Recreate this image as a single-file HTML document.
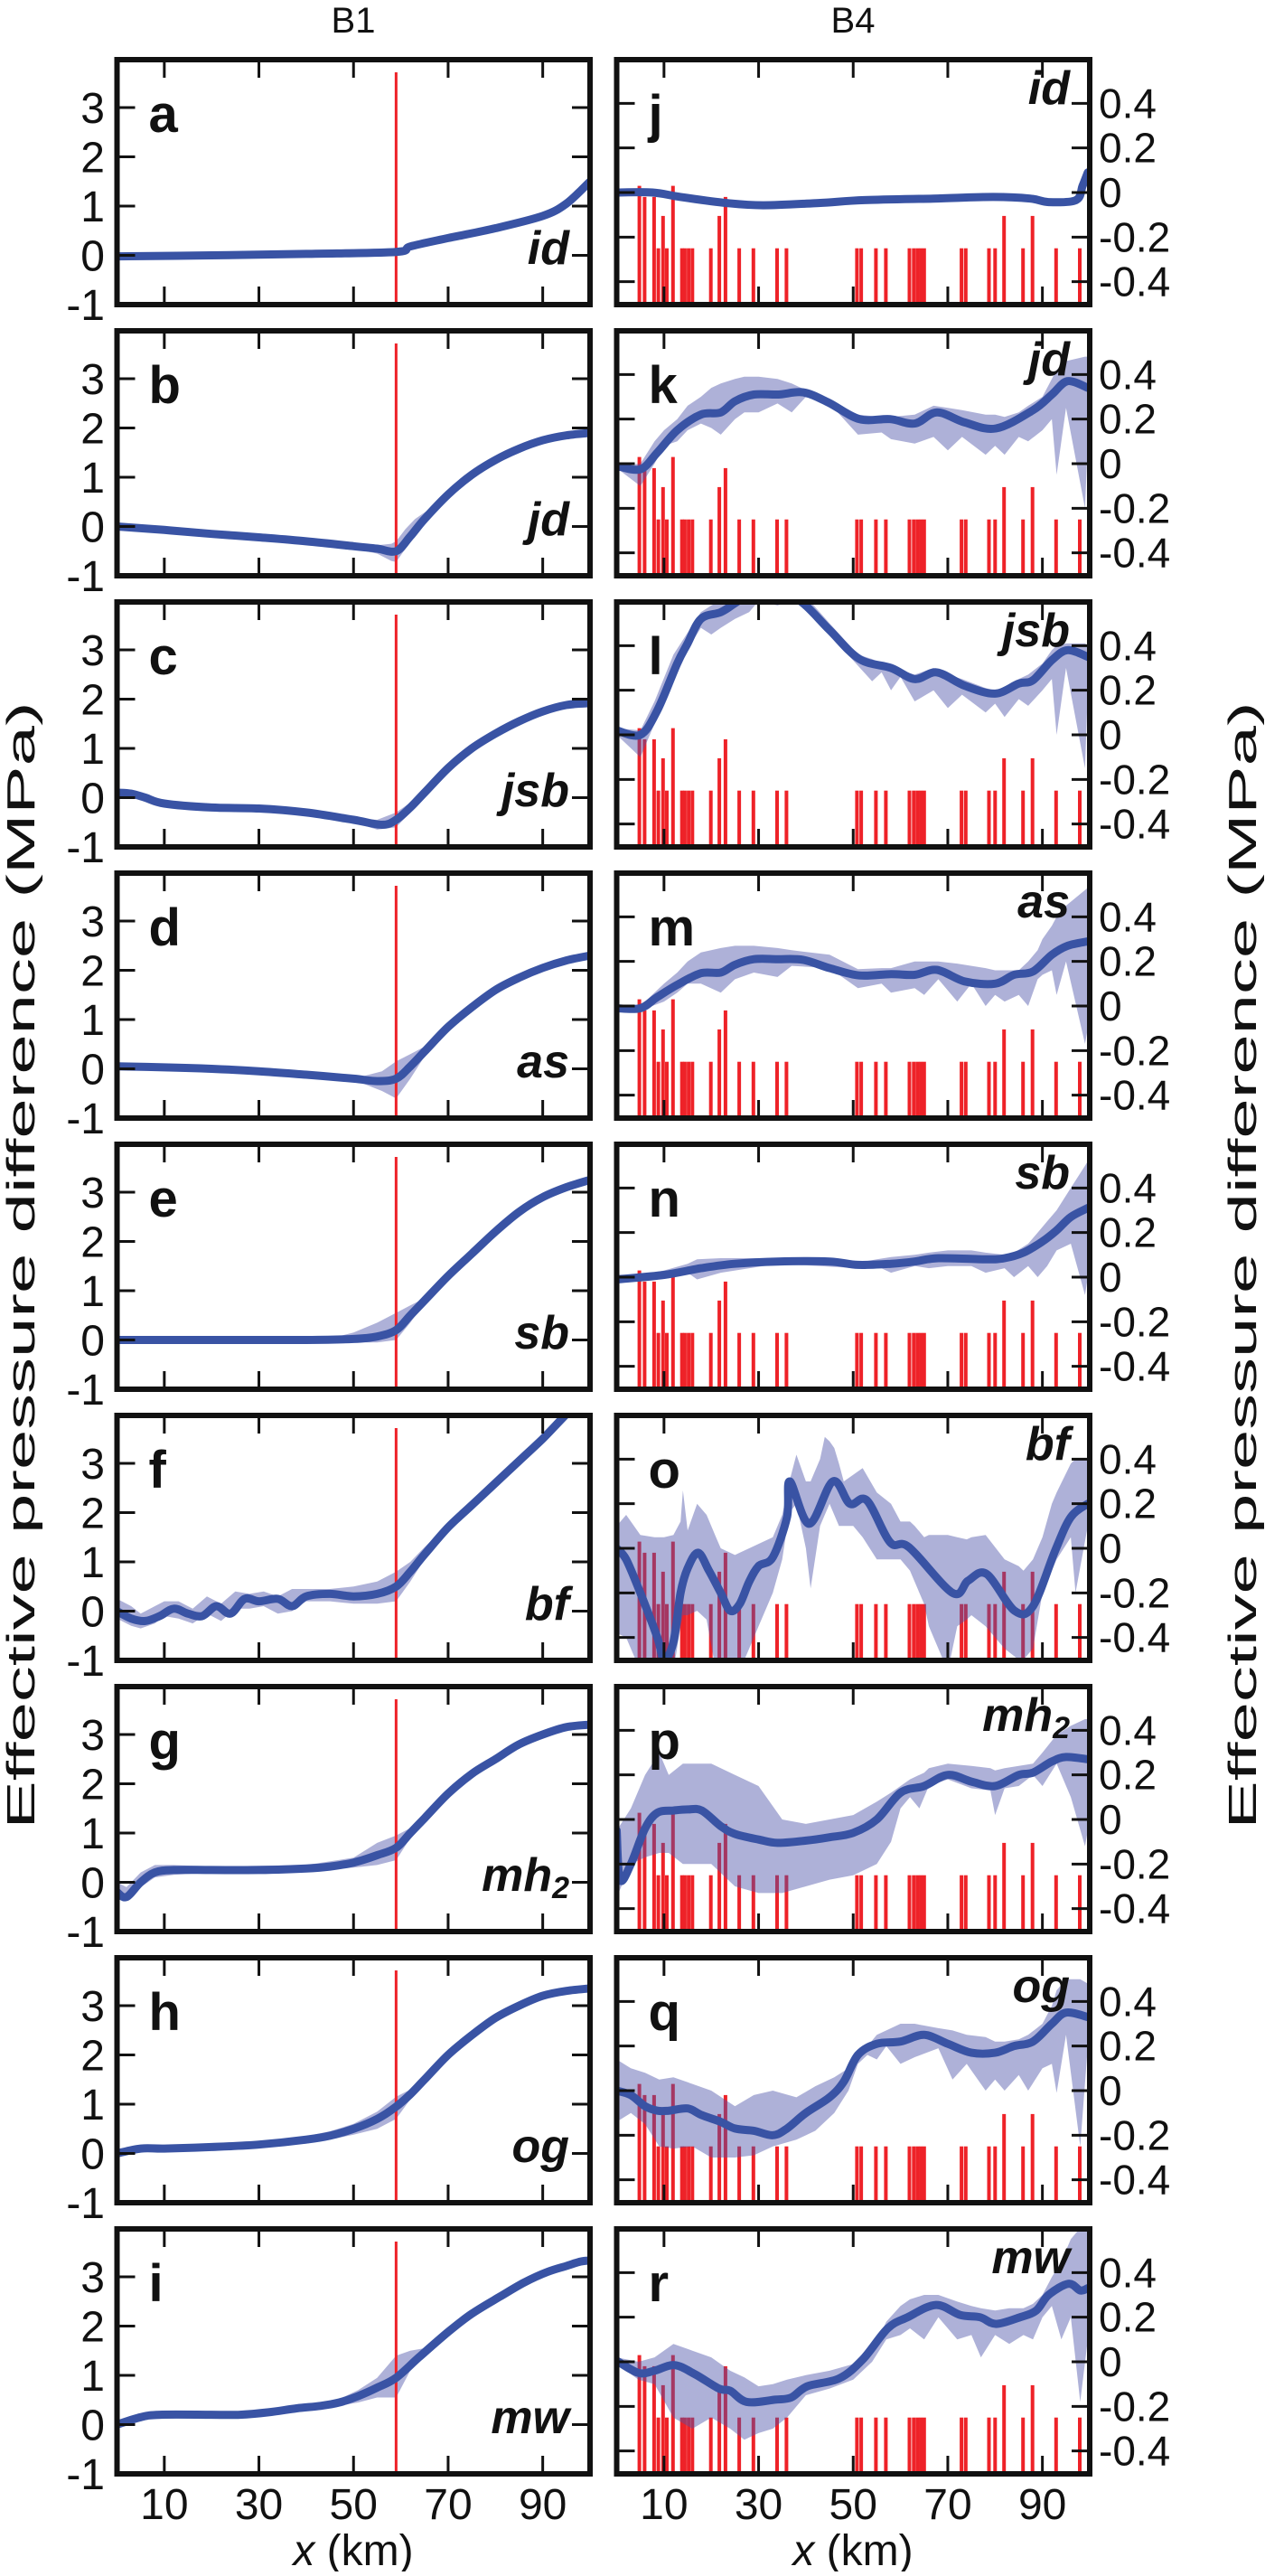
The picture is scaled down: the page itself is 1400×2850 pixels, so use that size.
<!DOCTYPE html>
<html><head><meta charset="utf-8"><style>
html,body{margin:0;padding:0;background:#fff;}
svg text{font-family:"Liberation Sans",sans-serif;fill:#111;}
</style></head><body>
<svg id="fig" xmlns="http://www.w3.org/2000/svg" width="1400" height="2845" viewBox="0 0 1400 2845">
<text x="391" y="36" font-size="40" text-anchor="middle">B1</text>
<text x="944" y="36" font-size="40" text-anchor="middle">B4</text>
<text transform="translate(38,1400) rotate(-90)" font-size="44" text-anchor="middle" textLength="1247" lengthAdjust="spacingAndGlyphs">Effective pressure difference (MPa)</text>
<text transform="translate(1390,1400) rotate(-90)" font-size="44" text-anchor="middle" textLength="1247" lengthAdjust="spacingAndGlyphs">Effective pressure difference (MPa)</text>
<text x="391" y="2838" font-size="48" text-anchor="middle"><tspan font-style="italic">x</tspan> (km)</text>
<text x="944" y="2838" font-size="48" text-anchor="middle"><tspan font-style="italic">x</tspan> (km)</text>
</svg>
<script>
// ---- shared data ----
const xTicks=[10,30,50,70,90];
const leftYTicks=[-1,0,1,2,3];
const rightYTicks=[-0.4,-0.2,0,0.2,0.4];
const rightYTickLabels=["-0.4","-0.2","0","0.2","0.4"];
const barKm=[4.8,5.9,7.9,8.8,9.8,10.6,11.9,13.8,14.4,15.2,16.0,19.9,21.7,23.0,25.9,28.9,33.9,35.9,50.8,51.7,54.8,56.9,61.9,62.8,63.6,64.3,65.0,72.9,73.8,78.7,80.0,81.9,85.9,87.9,92.9,97.9];
const barTop=[0.03,-0.02,-0.02,-0.25,-0.105,-0.25,0.03,-0.25,-0.25,-0.25,-0.25,-0.25,-0.105,-0.02,-0.25,-0.25,-0.25,-0.25,-0.25,-0.25,-0.25,-0.25,-0.25,-0.25,-0.25,-0.25,-0.25,-0.25,-0.25,-0.25,-0.25,-0.105,-0.25,-0.105,-0.25,-0.25];
const redLineKm=59;
const leftLetters=["a","b","c","d","e","f","g","h","i"];
const rightLetters=["j","k","l","m","n","o","p","q","r"];
const species=["id","jd","jsb","as","sb","bf","mh","og","mw"];

// ---- B1 (left) series ----
const aX=[0,20,40,59,62,70,80,90,95,100];
const aMean=[-0.02,0.0,0.03,0.07,0.18,0.35,0.55,0.8,1.05,1.5];
const aBX=[], aLo=[], aHi=[];
const bX=[0,10,20,30,40,50,55,59,62,65,70,75,80,85,90,95,100];
const bMean=[0.0,-0.07,-0.15,-0.22,-0.3,-0.4,-0.45,-0.5,-0.2,0.15,0.65,1.05,1.35,1.58,1.75,1.85,1.9];
const bBX=[45,50,55,58,59,61,63,66];
const bLo=[-0.38,-0.45,-0.55,-0.7,-0.72,-0.45,-0.15,0.25];
const bHi=[-0.32,-0.36,-0.38,-0.35,-0.3,-0.05,0.15,0.35];
const cX=[0,3,6,10,20,30,40,50,56,59,62,65,70,75,80,85,90,95,100];
const cMean=[0.1,0.08,0.0,-0.12,-0.2,-0.22,-0.3,-0.45,-0.55,-0.45,-0.2,0.1,0.6,1.0,1.3,1.55,1.75,1.88,1.92];
const cBX=[50,55,59,62,65];
const cLo=[-0.5,-0.65,-0.6,-0.3,0.05];
const cHi=[-0.42,-0.45,-0.3,-0.1,0.15];
const dX=[0,10,20,30,40,50,55,59,62,65,70,75,80,85,90,95,100];
const dMean=[0.05,0.03,0.0,-0.05,-0.12,-0.2,-0.25,-0.2,0.05,0.35,0.85,1.25,1.6,1.85,2.05,2.2,2.3];
const dBX=[48,52,56,59,62,65];
const dLo=[-0.22,-0.3,-0.45,-0.6,-0.2,0.25];
const dHi=[-0.18,-0.15,-0.05,0.15,0.3,0.45];
const eX=[0,20,40,50,55,59,62,65,70,75,80,85,90,95,100];
const eMean=[0.0,0.0,0.0,0.02,0.07,0.2,0.5,0.8,1.3,1.75,2.2,2.6,2.9,3.1,3.25];
const eBX=[45,50,55,59,62,65];
const eLo=[-0.02,-0.05,-0.05,0.0,0.35,0.75];
const eHi=[0.03,0.15,0.35,0.55,0.7,0.85];
const fX=[0,3,6,9,12,15,18,21,24,27,30,34,37,40,45,50,55,59,62,65,70,75,80,85,90,94,97];
const fMean=[0.0,-0.15,-0.2,-0.1,0.05,-0.05,-0.1,0.1,-0.05,0.25,0.2,0.25,0.1,0.3,0.35,0.3,0.35,0.5,0.8,1.15,1.7,2.15,2.6,3.05,3.5,3.9,4.2];
const fBX=[0,3,5,8,10,13,16,19,22,25,28,31,34,37,40,45,50,55,59,62,65,70];
const fLo=[-0.15,-0.3,-0.35,-0.25,-0.1,-0.15,-0.25,-0.05,-0.2,0.05,0.05,0.1,-0.05,0.0,0.2,0.2,0.15,0.15,0.2,0.6,1.05,1.65];
const fHi=[0.25,0.1,-0.05,0.1,0.2,0.2,0.05,0.3,0.15,0.4,0.35,0.4,0.3,0.45,0.45,0.45,0.5,0.6,0.8,1.0,1.3,1.75];
const gX=[0,2,5,8,12,20,30,40,45,50,55,59,62,65,70,75,80,85,90,95,100];
const gMean=[-0.2,-0.3,0.0,0.2,0.25,0.25,0.25,0.28,0.32,0.4,0.55,0.7,1.0,1.3,1.8,2.2,2.5,2.8,3.0,3.15,3.2];
const gBX=[0,2,5,8,12,20,40,50,55,59,62,65];
const gLo=[-0.35,-0.35,-0.1,0.1,0.15,0.2,0.22,0.3,0.35,0.45,0.9,1.25];
const gHi=[0.0,-0.1,0.2,0.35,0.35,0.32,0.35,0.5,0.8,0.95,1.1,1.35];
const hX=[0,5,10,20,30,40,45,50,55,59,62,65,70,75,80,85,90,95,100];
const hMean=[0.0,0.1,0.1,0.13,0.18,0.28,0.36,0.5,0.7,0.95,1.2,1.5,2.0,2.4,2.75,3.0,3.2,3.3,3.35];
const hBX=[20,30,40,45,50,55,59,62,65];
const hLo=[0.1,0.13,0.2,0.28,0.38,0.5,0.7,1.1,1.45];
const hHi=[0.15,0.25,0.35,0.45,0.6,0.85,1.15,1.3,1.55];
const iX=[0,5,9,20,26,32,38,43,47,51,55,59,64,70,75,81,86,91,95,98,100];
const iMean=[0.0,0.15,0.2,0.2,0.2,0.25,0.33,0.38,0.45,0.58,0.75,0.95,1.38,1.88,2.25,2.6,2.88,3.1,3.22,3.31,3.33];
const iBX=[5,10,20,30,40,47,51,55,59,62,65];
const iLo=[0.1,0.12,0.15,0.18,0.28,0.38,0.45,0.55,0.55,1.1,1.45];
const iHi=[0.2,0.25,0.25,0.27,0.38,0.52,0.7,0.95,1.4,1.5,1.55];

// ---- B4 (right) series ----
const jX=[0,7.6,13.5,23.2,31,42.7,52.4,67,79.6,87.4,91.3,97.1,98.5,99.6];
const jMean=[0.0,0.0,-0.02,-0.047,-0.057,-0.047,-0.034,-0.027,-0.02,-0.027,-0.043,-0.034,0.03,0.09];
const jBX=[], jLo=[], jHi=[];
const kX=[0,5,8.6,12.8,17.8,22,25,29,34.2,39.4,44.7,51.3,57.8,63,67.7,73.6,80.2,88,92,95.3,99.6];
const kMean=[-0.01,-0.025,0.05,0.15,0.22,0.23,0.28,0.31,0.31,0.32,0.275,0.2,0.2,0.18,0.23,0.185,0.158,0.24,0.31,0.37,0.34];
const kBX=[0,5,8,10,12.8,15,17.8,20,22,25,27,30,34,37,40,45,51,56,58,63,67,70,73,78,80,82,85,87,90,92,93,95,99,99.6];
const kLo=[-0.02,-0.1,0.0,0.08,0.1,0.15,0.18,0.16,0.13,0.2,0.23,0.23,0.27,0.23,0.3,0.27,0.13,0.14,0.11,0.09,0.12,0.06,0.12,0.04,0.08,0.04,0.12,0.1,0.15,0.2,-0.05,0.25,-0.2,0.1];
const kHi=[-0.01,0.0,0.1,0.15,0.2,0.26,0.3,0.34,0.36,0.38,0.39,0.39,0.38,0.36,0.33,0.28,0.22,0.21,0.21,0.22,0.26,0.25,0.24,0.22,0.22,0.21,0.23,0.26,0.3,0.38,0.42,0.46,0.48,0.48];
const lX=[0,5,8.6,12.8,15,17.8,22,25,30,34,39.4,45,51.3,58,63,67.7,73.6,80,85,88,92,95.3,99.6];
const lMean=[0.02,0.0,0.11,0.32,0.41,0.52,0.55,0.59,0.66,0.66,0.59,0.47,0.34,0.3,0.25,0.28,0.22,0.185,0.23,0.245,0.335,0.38,0.35];
const lBX=[0,5,8,12,17.8,20,22,25,28,30,34,37,40,45,51,54,56,58,60,63,67,70,73,78,80,82,85,87,90,92,93,95,99,99.6];
const lLo=[0.0,-0.1,0.05,0.28,0.48,0.45,0.48,0.52,0.55,0.6,0.58,0.6,0.6,0.45,0.31,0.24,0.28,0.2,0.26,0.15,0.2,0.12,0.18,0.1,0.14,0.08,0.16,0.13,0.2,0.25,0.0,0.3,-0.15,0.2];
const lHi=[0.03,0.02,0.15,0.36,0.55,0.58,0.6,0.62,0.65,0.68,0.68,0.66,0.62,0.5,0.36,0.34,0.32,0.31,0.29,0.27,0.3,0.27,0.25,0.21,0.2,0.21,0.25,0.27,0.32,0.38,0.4,0.41,0.41,0.4];
const mX=[0,5,8.6,12.8,17.8,22,25,29,34,39.4,45,51.3,58,63,67.7,73.6,80,84,88,92,95.3,99.6];
const mMean=[-0.01,-0.01,0.04,0.095,0.147,0.15,0.185,0.21,0.21,0.207,0.17,0.137,0.143,0.14,0.162,0.11,0.1,0.14,0.155,0.23,0.27,0.29];
const mBX=[0,5,10,12.8,15,17.8,22,25,29,34,37,45,51,56,58,63,65,68,72,75,78,80,82,85,87,89,90,92,93,95,99,99.6];
const mLo=[-0.02,-0.02,0.02,0.06,0.1,0.1,0.06,0.12,0.15,0.13,0.18,0.17,0.08,0.1,0.06,0.08,0.05,0.12,0.02,0.1,0.0,0.05,0.02,0.05,0.0,0.12,0.14,0.16,0.05,0.2,-0.17,-0.1];
const mHi=[-0.01,0.0,0.1,0.15,0.2,0.24,0.26,0.27,0.27,0.26,0.25,0.23,0.165,0.17,0.17,0.2,0.2,0.2,0.19,0.18,0.17,0.16,0.16,0.16,0.2,0.25,0.3,0.36,0.4,0.45,0.52,0.53];
const nX=[0,10,17.8,25,34,45,51,58,63,68,78,82,86,90,93,96,99.6];
const nMean=[-0.01,0.01,0.04,0.06,0.07,0.07,0.055,0.06,0.07,0.085,0.08,0.085,0.11,0.16,0.21,0.27,0.31];
const nBX=[0,10,15,17,22,34,51,55,58,63,66,70,75,78,82,84,87,89,91,93,96,99,99.6];
const nLo=[-0.02,0.0,0.02,-0.01,0.02,0.06,0.04,0.05,0.02,0.05,0.04,0.05,0.05,0.02,0.04,0.0,0.05,0.0,0.05,0.12,0.15,-0.08,0.0];
const nHi=[-0.01,0.03,0.06,0.08,0.085,0.085,0.065,0.08,0.09,0.1,0.11,0.12,0.12,0.11,0.1,0.11,0.15,0.2,0.25,0.3,0.4,0.5,0.52];
const oX=[0,2,5,8.6,10,12,13.5,15,17.2,19.5,22,24,26,28,30,33,36,36.6,40.7,45.7,49.3,52.9,57.8,61.8,71,74.3,78.2,84.1,88,92.7,96,99.6];
const oMean=[0.0,-0.05,-0.2,-0.4,-0.5,-0.42,-0.2,-0.09,-0.02,-0.1,-0.2,-0.28,-0.25,-0.15,-0.08,-0.04,0.14,0.3,0.11,0.3,0.2,0.215,0.027,0.005,-0.2,-0.145,-0.115,-0.28,-0.26,-0.01,0.14,0.2];
const oBX=[0,2,5,8,10,12,13.5,14,15,17,19,21,22,25,26,28,30,33,35,36.5,38,40,41,43,44,45,46,47,48,50,52,55,58,60,62,63,65,66,70,72,74,75,78,82,85,86,88,90,92,93,96,97,99.6];
const oLo=[-0.38,-0.4,-0.55,-0.55,-0.55,-0.55,-0.35,-0.3,-0.3,-0.28,-0.32,-0.55,-0.55,-0.55,-0.55,-0.45,-0.35,-0.2,-0.05,0.16,0.2,0.0,-0.18,0.1,0.15,0.2,0.15,0.1,0.1,0.1,0.05,-0.05,-0.05,-0.05,-0.1,-0.15,-0.25,-0.35,-0.55,-0.35,-0.32,-0.3,-0.35,-0.45,-0.5,-0.5,-0.45,-0.2,-0.1,-0.05,0.05,-0.2,0.1];
const oHi=[0.1,0.15,0.06,0.05,0.05,0.06,0.12,0.26,0.08,0.2,0.15,0.05,0.0,-0.03,-0.02,0.0,0.02,0.05,0.15,0.3,0.42,0.3,0.3,0.4,0.5,0.48,0.45,0.38,0.3,0.33,0.36,0.25,0.2,0.12,0.12,0.1,0.05,0.06,0.06,0.05,0.04,0.05,0.06,-0.05,-0.08,-0.1,-0.05,0.05,0.2,0.25,0.38,0.4,0.4];
const pX=[0,0.7,3,6,8.6,12,15,18,22,25,30,34,40,45,50,55,60,65,70,75,80,85,88,92,95,99.6];
const pMean=[-0.05,-0.27,-0.2,-0.04,0.03,0.04,0.045,0.04,-0.03,-0.065,-0.09,-0.105,-0.095,-0.08,-0.06,0.0,0.12,0.15,0.2,0.17,0.15,0.2,0.21,0.26,0.28,0.27];
const pBX=[0,3,6,9,11,14,20,25,30,35,40,45,50,55,58,60,62,64,65,66,70,75,79,80,82,85,88,90,93,96,99,99.6];
const pLo=[-0.35,-0.2,-0.17,-0.15,-0.15,-0.2,-0.2,-0.3,-0.33,-0.33,-0.3,-0.27,-0.25,-0.2,-0.1,0.05,0.1,0.05,0.1,0.15,0.18,0.14,0.13,0.02,0.14,0.15,0.2,0.15,0.25,0.1,-0.12,-0.05];
const pHi=[-0.05,0.05,0.2,0.3,0.2,0.25,0.25,0.2,0.15,0.0,-0.02,0.0,0.02,0.08,0.12,0.15,0.18,0.2,0.21,0.23,0.25,0.24,0.23,0.22,0.23,0.24,0.25,0.3,0.38,0.42,0.45,0.45];
const qX=[0,3,6,8.6,11,15,18,22,25,29,33,36,40,45,48,51,55,60,65,70,75,80,84,88,92,95,99.6];
const qMean=[0.0,-0.02,-0.07,-0.09,-0.09,-0.08,-0.11,-0.14,-0.17,-0.18,-0.2,-0.17,-0.1,-0.03,0.04,0.16,0.21,0.22,0.25,0.21,0.17,0.17,0.2,0.22,0.3,0.35,0.33];
const qBX=[0,3,6,9,12,16,20,25,29,33,38,42,46,49,51,53,55,57,60,63,68,71,74,78,80,82,85,87,90,92,93,95,98,99.6];
const qLo=[-0.14,-0.1,-0.15,-0.25,-0.26,-0.25,-0.3,-0.3,-0.29,-0.25,-0.22,-0.18,-0.1,0.0,0.12,0.16,0.14,0.2,0.12,0.15,0.19,0.05,0.12,0.0,0.05,0.0,0.07,0.0,0.1,0.12,-0.01,0.25,-0.25,0.2];
const qHi=[0.14,0.1,0.08,0.05,0.06,0.03,0.0,-0.07,-0.02,0.0,-0.03,0.02,0.06,0.1,0.15,0.2,0.25,0.27,0.3,0.3,0.28,0.27,0.25,0.24,0.22,0.22,0.23,0.25,0.3,0.38,0.45,0.5,0.5,0.48];
const rX=[0,4.6,8,12.2,16.5,21.6,24,27.5,33.5,36.9,40.3,47,52,57.3,61.5,67.5,72.6,76.8,80.2,85.3,88.7,91.3,95.5,98,99.6];
const rMean=[0.005,-0.05,-0.04,-0.015,-0.055,-0.12,-0.13,-0.18,-0.17,-0.16,-0.11,-0.075,0.01,0.15,0.2,0.255,0.21,0.2,0.17,0.2,0.23,0.3,0.35,0.32,0.33];
const rBX=[0,4.6,8,12,16,20,24,27,30,33,36,40,45,50,54,57,60,62,65,68,72,75,77,80,83,86,88,90,92,94,96,98,99.6];
const rLo=[-0.01,-0.08,-0.1,-0.25,-0.3,-0.25,-0.3,-0.35,-0.32,-0.3,-0.25,-0.15,-0.12,-0.08,0.0,0.1,0.12,0.15,0.1,0.2,0.1,0.12,0.02,0.12,0.08,0.12,0.1,0.2,0.25,0.1,0.2,-0.18,0.1];
const rHi=[0.02,0.0,0.02,0.08,0.05,0.02,-0.04,-0.07,-0.11,-0.1,-0.08,-0.06,-0.04,-0.01,0.05,0.18,0.25,0.28,0.3,0.3,0.27,0.25,0.24,0.23,0.24,0.24,0.26,0.3,0.38,0.45,0.55,0.6,0.6];

const leftSeries=[[aX,aMean,aBX,aLo,aHi],[bX,bMean,bBX,bLo,bHi],[cX,cMean,cBX,cLo,cHi],[dX,dMean,dBX,dLo,dHi],[eX,eMean,eBX,eLo,eHi],[fX,fMean,fBX,fLo,fHi],[gX,gMean,gBX,gLo,gHi],[hX,hMean,hBX,hLo,hHi],[iX,iMean,iBX,iLo,iHi]];
const rightSeries=[[jX,jMean,jBX,jLo,jHi],[kX,kMean,kBX,kLo,kHi],[lX,lMean,lBX,lLo,lHi],[mX,mMean,mBX,mLo,mHi],[nX,nMean,nBX,nLo,nHi],[oX,oMean,oBX,oLo,oHi],[pX,pMean,pBX,pLo,pHi],[qX,qMean,qBX,qLo,qHi],[rX,rMean,rBX,rLo,rHi]];

// ---- drawing ----
const NS="http://www.w3.org/2000/svg";
const svg=document.getElementById('fig');
function mk(tag,attrs,parent){const e=document.createElementNS(NS,tag);for(const k in attrs)e.setAttribute(k,attrs[k]);(parent||svg).appendChild(e);return e;}
function smooth(pts){if(!pts.length)return '';let d='M'+pts[0][0].toFixed(1)+','+pts[0][1].toFixed(1);
 for(let i=0;i<pts.length-1;i++){const p0=pts[i-1]||pts[i],p1=pts[i],p2=pts[i+1],p3=pts[i+2]||p2;
  const c1=[p1[0]+(p2[0]-p0[0])/6,p1[1]+(p2[1]-p0[1])/6],c2=[p2[0]-(p3[0]-p1[0])/6,p2[1]-(p3[1]-p1[1])/6];
  d+='C'+c1[0].toFixed(1)+','+c1[1].toFixed(1)+' '+c2[0].toFixed(1)+','+c2[1].toFixed(1)+' '+p2[0].toFixed(1)+','+p2[1].toFixed(1);}
 return d;}
const PH=271, PITCH=300, TOP0=66;
const COLS=[{x0:129.5,x1:653},{x0:682.5,x1:1206}];

for(let col=0;col<2;col++){
 for(let r=0;r<9;r++){
  const c=COLS[col], top=TOP0+r*PITCH, bot=top+PH;
  const sx=v=>c.x0+(v/100)*(c.x1-c.x0);
  const sy= col===0 ? (v=>bot-(v+1)*54.5) : (v=>top+147-v*246.7);
  const letter = col===0?leftLetters[r]:rightLetters[r];
  const g=mk('g',{});
  
  
  const cid='clip-'+letter;
  const cp=mk('clipPath',{id:cid},g); mk('rect',{x:c.x0,y:top,width:c.x1-c.x0,height:PH},cp);
  const plot=mk('g',{'clip-path':'url(#'+cid+')'},g);
  const S=(col===0?leftSeries:rightSeries)[r];
  if(col===1){
   for(let b=0;b<barKm.length;b++){
    const bar=mk('rect',{x:(sx(barKm[b])-2).toFixed(1),y:sy(barTop[b]).toFixed(1),width:4,height:(bot-sy(barTop[b])).toFixed(1),fill:'#ee2228'},plot);
    
    
   }
  }
  if(S[2].length){
   let pts=S[2].map((x,i)=>sx(x).toFixed(1)+','+sy(S[4][i]).toFixed(1));
   for(let i=S[2].length-1;i>=0;i--)pts.push(sx(S[2][i]).toFixed(1)+','+sy(S[3][i]).toFixed(1));
   const band=mk('polygon',{points:pts.join(' '),fill:'#4b52a8','fill-opacity':'0.45'},plot);
   
   
  }
  if(col===0){
   const rl=mk('line',{x1:sx(redLineKm),x2:sx(redLineKm),y1:top+14,y2:bot,stroke:'#ee2228','stroke-width':3},plot);
   
   
  }
  const ln=mk('path',{d:smooth(S[0].map((x,i)=>[sx(x),sy(S[1][i])])),fill:'none',stroke:'#3953a4','stroke-width':9,'stroke-linejoin':'round','stroke-linecap':'round'},plot);
  
  
  for(const t of xTicks){const X=sx(t);
   mk('line',{x1:X,x2:X,y1:top,y2:top+20,stroke:'#111','stroke-width':3},g);
   mk('line',{x1:X,x2:X,y1:bot,y2:bot-20,stroke:'#111','stroke-width':3},g);}
  const yt=col===0?leftYTicks:rightYTicks;
  yt.forEach((t,ti)=>{const Y=sy(t);
   mk('line',{x1:c.x0,x2:c.x0+20,y1:Y,y2:Y,stroke:'#111','stroke-width':3},g);
   mk('line',{x1:c.x1,x2:c.x1-20,y1:Y,y2:Y,stroke:'#111','stroke-width':3},g);
   const tl = col===0 ? mk('text',{x:116,y:Y+17,'font-size':48,'text-anchor':'end'},g) : mk('text',{x:1216,y:Y+16,'font-size':46,'text-anchor':'start'},g);
   tl.textContent = col===0 ? String(t) : rightYTickLabels[ti];
   
   
  });
  const fr=mk('rect',{x:c.x0,y:top,width:c.x1-c.x0,height:PH,fill:'none',stroke:'#111','stroke-width':6},g);
  
  
  const lt=mk('text',{x:c.x0+35,y:top+80,'font-size':58,'font-weight':'bold'},g);
  lt.textContent=letter;
  
  
  const sp = col===0 ? mk('text',{x:630,y:top+226,'font-size':52,'font-weight':'bold','font-style':'italic','text-anchor':'end'},g)
                     : mk('text',{x:1184,y:top+49,'font-size':52,'font-weight':'bold','font-style':'italic','text-anchor':'end'},g);
  sp.textContent=species[r];
  if(species[r]==='mh'){const sub=mk('tspan',{'font-size':34,dy:8},sp);sub.textContent='2';}
  
  
  if(r===8){for(const t of xTicks){const xl=mk('text',{x:sx(t),y:2787,'font-size':48,'text-anchor':'middle'},g);xl.textContent=String(t);
   
   }}
 }
}
</script>
</body></html>
